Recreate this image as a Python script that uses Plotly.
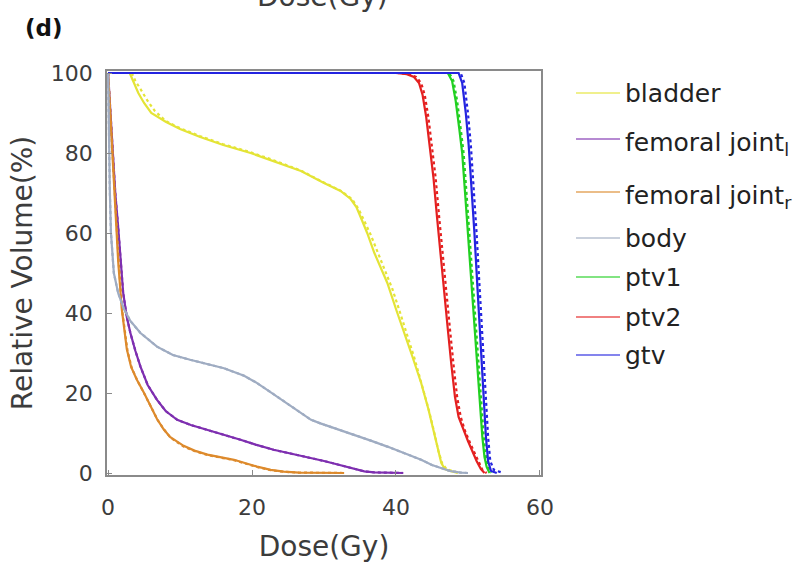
import plotly.graph_objects as go

# Dose-volume histograms: dose (Gy) vs relative volume (%)
# Solid = plan A, dashed = plan B

bladder_dose = [3.0, 3.5, 4.2, 5.0, 6.0, 8.0, 10, 12.8, 16, 19.8, 23, 26.8, 30, 32.3, 33.7, 34.5,
                35.2, 36, 37, 38, 38.8, 40, 41.2, 42.3, 43.5, 44.5, 45.3, 45.8, 46.3, 46.8, 47.5, 48.6]
bladder_vol = [100, 98, 95, 92.5, 90, 87.8, 86, 84, 82, 80, 78, 75.5, 72.5, 70.5, 68.5, 66.5,
               63.5, 60, 55, 51, 47.5, 41, 35, 29, 22.5, 16, 10, 6, 2.5, 1, 0.5, 0]
bladder_dose_b = [3.3, 3.8, 4.5, 5.5, 6.5, 8.0, 10, 12.8, 16, 19.8, 23, 26.8, 30, 32.3, 33.9, 34.8,
                  35.6, 36.5, 37.5, 38.5, 39.5, 40.5, 41.6, 42.6, 43.6, 44.6, 45.4, 45.9, 46.4, 47, 48, 49]
bladder_vol_b = [100, 98, 96, 93, 90.5, 88, 86.2, 84.2, 82.2, 80.2, 78.2, 75.6, 72.6, 70.6, 68.5, 66,
                 63, 59.5, 55, 50.5, 46, 40.5, 34.5, 28.5, 22, 15.5, 9.5, 5.5, 2.5, 1, 0.4, 0]

fem_l_dose = [0, 0.3, 0.7, 1.0, 1.4, 1.8, 2.1, 2.6, 3.1, 3.8, 4.5, 5.5, 6.8, 8, 9.6, 11.5, 13.8, 16,
              18.4, 20.5, 23, 25.5, 27.7, 30, 31.5, 33.5, 35.6, 37, 39.7, 41]
fem_l_vol = [100, 90, 78, 70, 61.5, 52, 45, 39, 35, 30.5, 26.6, 22, 18.3, 15.5, 13.3, 12, 10.8, 9.6,
             8.3, 7.1, 5.8, 4.8, 4, 3, 2.3, 1.3, 0.4, 0.15, 0, 0]

fem_r_dose = [0, 0.3, 0.7, 1.0, 1.4, 1.9, 2.6, 3.2, 4, 5, 5.9, 6.8, 7.7, 8.6, 10.5, 12, 13.8, 15.5,
              17.5, 19, 20.7, 22.6, 24.4, 26.5, 28.6, 32.8]
fem_r_vol = [100, 90, 78, 66, 53, 41, 31, 26.5, 23.3, 20, 16.8, 13.5, 11, 9, 6.8, 5.6, 4.6, 4,
             3.3, 2.5, 1.6, 0.8, 0.35, 0.1, 0.02, 0]
fem_r_dose_b = [0, 0.35, 0.75, 1.05, 1.5, 2.0, 2.7, 3.3, 4.1, 5.1, 6, 6.9, 7.8, 8.7, 10.5, 12, 13.8,
                15.5, 17.5, 19, 20.7, 22.6, 24.4, 26.5, 29, 33]
fem_r_vol_b = [100, 89, 77, 65, 52, 40, 30.5, 26.2, 23, 19.6, 16.4, 13.2, 10.8, 8.8, 6.6, 5.5, 4.5,
               3.9, 3.2, 2.4, 1.5, 0.7, 0.3, 0.1, 0, 0]

body_dose = [0, 0.1, 0.25, 0.4, 0.8, 1.4, 2.2, 3.1, 4.5, 6.8, 9, 11.4, 14, 16.1, 18.9, 20.5, 22.1,
             23.8, 25.4, 27, 28.2, 29.5, 32, 34.2, 36.5, 38.8, 41, 43.5, 45, 46.3, 47.5, 49, 50]
body_vol = [100, 85, 70, 60, 50, 45, 41, 38, 35, 31.6, 29.5, 28.3, 27.2, 26.2, 24.3, 22.7, 20.8,
            18.7, 16.6, 14.6, 13.3, 12.4, 10.9, 9.6, 8.1, 6.6, 5, 3.3, 2, 1.2, 0.5, 0.1, 0]

ptv1_dose = [0, 47.2, 47.8, 48.3, 48.8, 49.2, 49.6, 50, 50.4, 50.8, 51.2, 51.6, 52, 52.3, 52.6, 53]
ptv1_vol = [100, 100, 98, 93, 86, 80, 70, 60, 50, 39, 28, 18, 9, 4, 1.5, 0]
ptv1_dose_b = [0, 47.4, 48, 48.5, 49, 49.4, 49.8, 50.2, 50.6, 51, 51.4, 51.8, 52.2, 52.5, 52.8, 53.2]
ptv1_vol_b = [100, 100, 98, 93, 86, 80, 70, 60, 50, 39, 28, 18, 9, 4, 1.5, 0]

ptv2_dose = [0, 40, 41.5, 42.5, 43.2, 43.7, 44.2, 44.7, 45.2, 45.7, 46.2, 46.7, 47.2, 47.7, 48.2,
             48.7, 49.3, 50, 50.6, 51.2, 51.8, 52.3]
ptv2_vol = [100, 100, 99.7, 99, 97.5, 94.5, 89, 82, 74, 64, 54, 45, 36, 27, 19, 14, 11, 8, 5.5, 3, 1, 0]
ptv2_dose_b = [0, 40.3, 41.8, 42.8, 43.5, 44, 44.5, 45, 45.5, 46, 46.5, 47, 47.5, 48, 48.5, 49,
               49.6, 50.3, 50.9, 51.5, 52, 52.6]
ptv2_vol_b = [100, 100, 99.7, 99, 97.5, 94.5, 89, 82, 74, 64, 54, 45, 36, 27, 19, 14, 10.5, 7.5, 5,
              2.5, 0.8, 0]

gtv_dose = [0, 48.7, 49.2, 49.7, 50.1, 50.5, 50.9, 51.3, 51.7, 52.1, 52.5, 52.8, 53.2, 54]
gtv_vol = [100, 100, 97.5, 90, 82, 72, 60, 47, 34, 20, 9, 3, 0.5, 0]
gtv_dose_b = [0, 49, 49.5, 50, 50.4, 50.8, 51.2, 51.6, 52, 52.4, 52.8, 53.1, 53.6, 54.9]
gtv_vol_b = [100, 100, 97.5, 90, 82, 72, 60, 47, 34, 20, 9, 3, 0.8, 0]

x_ticks = [0, 20, 40, 60]
y_ticks = [0, 20, 40, 60, 80, 100]

structures = [
    # name, legend label, colour, solid data, dashed data
    ("bladder", "bladder", "#e4e436", (bladder_dose, bladder_vol), (bladder_dose_b, bladder_vol_b)),
    ("fem_l", "femoral joint<sub>l</sub>", "#7e2fb0", (fem_l_dose, fem_l_vol), (fem_l_dose, fem_l_vol)),
    ("fem_r", "femoral joint<sub>r</sub>", "#dd8a2c", (fem_r_dose, fem_r_vol), (fem_r_dose_b, fem_r_vol_b)),
    ("body", "body", "#9facc2", (body_dose, body_vol), (body_dose, body_vol)),
    ("ptv1", "ptv1", "#22d022", (ptv1_dose, ptv1_vol), (ptv1_dose_b, ptv1_vol_b)),
    ("ptv2", "ptv2", "#e42020", (ptv2_dose, ptv2_vol), (ptv2_dose_b, ptv2_vol_b)),
    ("gtv", "gtv", "#2424e0", (gtv_dose, gtv_vol), (gtv_dose_b, gtv_vol_b)),
]

FONT = "DejaVu Sans"
TEXT = "#3c3c3c"
AXIS = "#8a8a8a"

fig = go.Figure()
for name, label, color, solid, dashed in structures:
    fig.add_trace(go.Scatter(x=solid[0], y=solid[1], mode="lines", name=label,
                             line=dict(color=color, width=2.2), showlegend=False))
    fig.add_trace(go.Scatter(x=dashed[0], y=dashed[1], mode="lines", name=label + " (B)",
                             line=dict(color=color, width=2.2, dash="3px,3px"), showlegend=False))

# Legend drawn beside the axes
legend_rows = [93, 139, 192, 238, 277, 317, 355]   # pixel rows from top of page
W, H = 800, 565
L, R, T, B = 107, 259, 71, 90
pw, ph = W - L - R, H - T - B
for (name, label, color, _, _), row in zip(structures, legend_rows):
    yp = (H - B - row) / ph
    x0 = (576 - L) / pw
    x1 = (620 - L) / pw
    fig.add_shape(type="line", xref="paper", yref="paper", x0=x0, x1=x1, y0=yp, y1=yp,
                  line=dict(color=color, width=1.6), opacity=0.75)
    shift = -5 if "<sub>" in label else 0
    fig.add_annotation(xref="paper", yref="paper", x=(623 - L) / pw, y=yp, text=label,
                       showarrow=False, xanchor="left", yanchor="middle", yshift=shift,
                       font=dict(family=FONT, size=25, color="#222222"))

# Panel label and the title of the panel above
fig.add_annotation(xref="paper", yref="paper", x=(44 - L) / pw, y=(H - B - 28) / ph, text="<b>(d)</b>",
                   showarrow=False, xanchor="center", yanchor="middle",
                   font=dict(family=FONT, size=23, color="#111111"))
fig.add_annotation(xref="paper", yref="paper", x=(322 - L) / pw, y=(H - B - 15) / ph, text="Dose(Gy)",
                   showarrow=False, xanchor="center", yanchor="bottom",
                   font=dict(family=FONT, size=28, color=TEXT))

axis_common = dict(showgrid=False, zeroline=False, showline=True, mirror=True, linecolor=AXIS,
                   linewidth=1.5, ticks="inside", ticklen=5, tickcolor=AXIS, tickwidth=1,
                   tickfont=dict(family=FONT, size=22, color=TEXT))
fig.update_xaxes(range=[-0.15, 60.15], tickvals=x_ticks, ticktext=[str(v) for v in x_ticks],
                 ticklabelstandoff=12,
                 title=dict(text="Dose(Gy)", font=dict(family=FONT, size=28, color=TEXT), standoff=17),
                 **axis_common)
fig.update_yaxes(range=[-0.5, 100.5], tickvals=y_ticks, ticktext=[str(v) for v in y_ticks],
                 ticklabelstandoff=8,
                 title=dict(text="Relative Volume(%)", font=dict(family=FONT, size=28, color=TEXT), standoff=10),
                 **axis_common)

fig.update_layout(width=W, height=H, margin=dict(l=L, r=R, t=T, b=B, autoexpand=False),
                  plot_bgcolor="white", paper_bgcolor="white", showlegend=False)

fig.write_html("out.html")
